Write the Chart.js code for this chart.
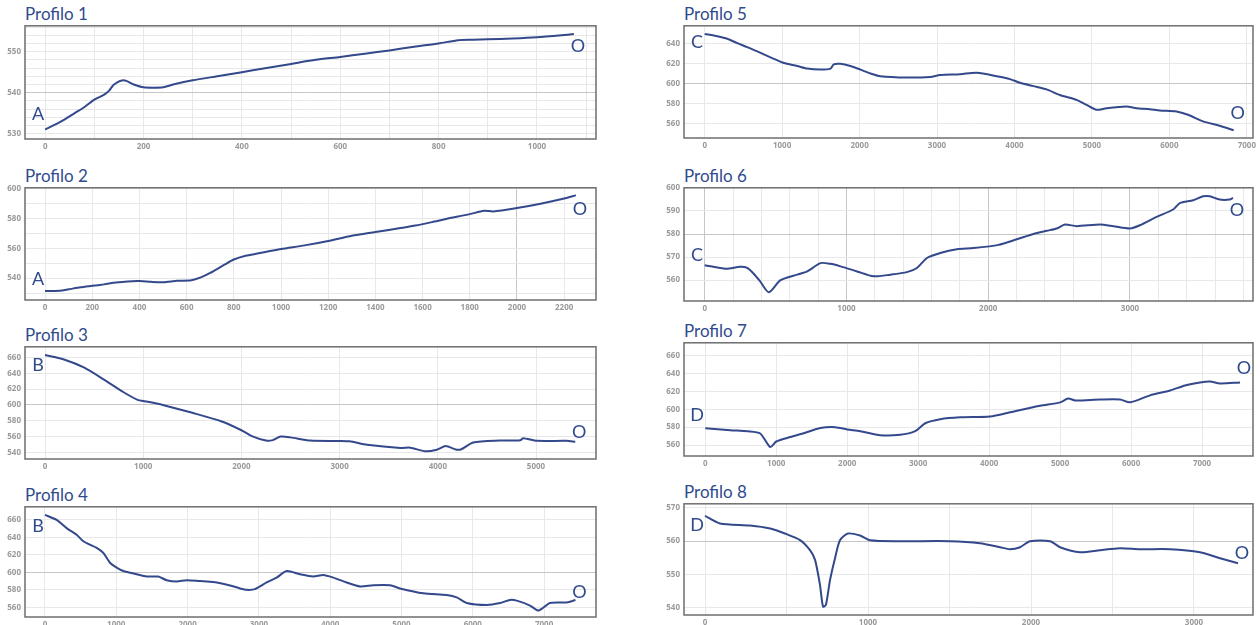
<!DOCTYPE html>
<html>
<head>
<meta charset="utf-8">
<script src="https://cdn.jsdelivr.net/npm/chart.js@4.4.1/dist/chart.umd.min.js"></script>
<style>
  html, body { margin: 0; padding: 0; background: #fff; overflow: hidden; }
  body { width: 1260px; height: 625px; position: relative; }
  .title { position: absolute; font: 17px Lato, sans-serif; line-height: 20px; color: #2f4b8c; white-space: nowrap; }
  canvas { position: absolute; }
</style>
</head>
<body>
<script>
// elevation profiles: distance (m) and elevation (m)
const titles = ['Profilo 1', 'Profilo 2', 'Profilo 3', 'Profilo 4', 'Profilo 5', 'Profilo 6', 'Profilo 7', 'Profilo 8'];
const startLetters = ['A', 'A', 'B', 'B', 'C', 'C', 'D', 'D'];
const endLetter = 'O';

const dist1 = [0, 20, 40, 60, 80, 100, 120, 130, 140, 160, 180, 200, 220, 240, 260, 300, 350, 400, 450, 500, 550, 600, 650, 700, 750, 800, 840, 870, 900, 950, 1000, 1050, 1075];
const elev1 = [531, 532.2, 533.5, 535, 536.5, 538.3, 539.5, 540.5, 542, 543, 542, 541.3, 541.2, 541.3, 542, 543, 544, 545, 546, 547, 548, 548.7, 549.5, 550.3, 551.2, 552, 552.8, 552.9, 553, 553.2, 553.5, 554, 554.3];

const dist2 = [0, 60, 100, 150, 200, 250, 300, 350, 400, 450, 500, 560, 620, 660, 700, 760, 800, 850, 900, 1000, 1100, 1200, 1300, 1400, 1500, 1570, 1650, 1700, 1800, 1860, 1900, 2000, 2100, 2200, 2250];
const elev2 = [531.3, 531.5, 532.5, 533.8, 534.8, 535.8, 537, 537.8, 538, 537.5, 537.3, 538.2, 538.6, 540.5, 543.5, 549, 552.5, 555, 556.5, 559.5, 562, 565, 568.5, 571, 573.5, 575.3, 578, 579.8, 583, 585.3, 584.8, 587.1, 590, 593.5, 595.6];

const dist3 = [0, 200, 400, 600, 800, 950, 1000, 1200, 1500, 1800, 2000, 2100, 2250, 2320, 2400, 2500, 2700, 3000, 3100, 3280, 3620, 3720, 3870, 3990, 4080, 4190, 4240, 4360, 4630, 4840, 4870, 5010, 5310, 5400];
const elev3 = [663, 657, 647, 632, 616, 606, 605, 600, 590, 579, 568, 561, 555, 555.5, 560, 559, 555, 554.5, 554, 549.6, 545.5, 546, 541.5, 543.5, 548, 543.5, 544, 552.5, 555, 555.5, 558, 554.6, 554.6, 553.6];

const dist4 = [0, 164, 304, 444, 538, 631, 725, 818, 912, 1005, 1099, 1286, 1426, 1589, 1706, 1847, 1987, 2174, 2361, 2595, 2735, 2829, 2945, 3109, 3249, 3390, 3576, 3763, 3903, 4044, 4231, 4418, 4605, 4839, 4979, 5307, 5634, 5775, 5915, 6195, 6382, 6523, 6616, 6803, 6920, 7084, 7318, 7440];
const elev4 = [665.7, 660, 650.6, 643, 635.5, 631.7, 628, 622.3, 611, 605.4, 601.6, 597.8, 595.2, 595.2, 591, 589.5, 591, 590, 588.9, 585, 581.6, 580, 580.8, 588.4, 594, 601.5, 597.8, 595.2, 597, 594, 588.4, 583.9, 585.3, 585.3, 581.6, 576, 574, 571.4, 565, 562.7, 564.9, 568.4, 567.6, 562, 556.3, 564.9, 565.6, 568.4];

const dist5 = [0, 163, 292, 421, 550, 679, 893, 1022, 1194, 1323, 1495, 1624, 1667, 1753, 1882, 2011, 2140, 2268, 2612, 2912, 3041, 3299, 3513, 3771, 3943, 4072, 4243, 4415, 4587, 4802, 4931, 5060, 5189, 5446, 5575, 5747, 5876, 6091, 6241, 6434, 6649, 6830];
const elev5 = [649.9, 647.5, 645, 640.6, 636.7, 632.4, 625, 620.8, 617.8, 615.2, 614.2, 615.2, 619.5, 620, 617.8, 614.2, 610.3, 607.6, 606.3, 606.9, 608.8, 609.6, 611, 607.6, 604.7, 601, 597.7, 594.4, 588.8, 583.9, 578.9, 574, 575.6, 577.2, 575.6, 574.6, 573.3, 572.3, 569, 562.4, 558.1, 553.5];

const dist6 = [0, 150, 250, 300, 350, 390, 453, 535, 653, 723, 817, 887, 958, 1075, 1192, 1310, 1427, 1497, 1568, 1662, 1779, 1897, 2073, 2202, 2319, 2413, 2483, 2542, 2624, 2788, 2883, 3000, 3070, 3188, 3305, 3352, 3446, 3516, 3563, 3633, 3704, 3727];
const elev6 = [566.5, 565, 565.8, 565.3, 562.5, 559.6, 554.8, 560, 562.4, 563.8, 567.4, 567.1, 566, 563.8, 561.7, 562.4, 563.5, 565.3, 569.6, 571.8, 573.4, 573.9, 575.3, 577.7, 580, 581.4, 582.4, 584.1, 583.4, 584.1, 583.4, 582.4, 583.8, 587.4, 590.6, 593.4, 594.6, 596.3, 596.3, 594.9, 594.9, 595.6];

const dist7 = [0, 352, 600, 774, 915, 1000, 1200, 1400, 1620, 1831, 2000, 2183, 2465, 2746, 2958, 3099, 3310, 3592, 4014, 4296, 4718, 5000, 5113, 5211, 5563, 5845, 5986, 6268, 6549, 6760, 6972, 7113, 7254, 7535];
const elev7 = [578.9, 576.7, 575.5, 573, 557.8, 564, 569, 573.5, 579, 580, 577.5, 575.6, 571, 571.5, 575.6, 584.4, 588.9, 591, 592, 596.7, 604, 607.8, 612, 610, 611, 611, 607.8, 615.6, 621, 626.7, 630, 631, 628.9, 630];

const dist8 = [0, 92, 276, 400, 490, 583, 644, 675, 705, 724, 742, 767, 798, 828, 877, 951, 1012, 1196, 1503, 1687, 1810, 1871, 1933, 1994, 2117, 2178, 2301, 2423, 2546, 2669, 2853, 3037, 3160, 3270];
const elev8 = [567.6, 565.3, 564.7, 563.8, 562.3, 560.3, 557.3, 554.4, 547, 540.4, 541, 548.4, 555, 560.3, 562.3, 561.7, 560.3, 560, 560, 559.4, 558.2, 557.6, 558.2, 560, 560, 558.2, 556.7, 557.3, 557.9, 557.6, 557.6, 556.7, 554.9, 553.4];

const distances = [dist1, dist2, dist3, dist4, dist5, dist6, dist7, dist8];
const elevations = [elev1, elev2, elev3, elev4, elev5, elev6, elev7, elev8];

// layout of each small chart (plot area in page pixels + axis setup)
const panels = [
  { col: 0, top: 25, bottom: 139, xMin: -41, xMax: 1120, xStep: 100, xLabel: 200, xDark: [], yMin: 528.7, yMax: 556.3, yStep: 2, yLabel: 10, yDark: [540], sDy: -15, eDy: 12 },
  { col: 0, top: 187, bottom: 300, xMin: -85, xMax: 2335, xStep: 200, xLabel: 200, xDark: [2000], yMin: 525.3, yMax: 600.7, yStep: 10, yLabel: 20, yDark: [], sDy: -12, eDy: 14 },
  { col: 0, top: 346, bottom: 459, xMin: -204, xMax: 5611, xStep: 1000, xLabel: 1000, xDark: [], yMin: 531.7, yMax: 673.4, yStep: 20, yLabel: 20, yDark: [600], sDy: 10, eDy: -9 },
  { col: 0, top: 506, bottom: 617, xMin: -280, xMax: 7728, xStep: 1000, xLabel: 1000, xDark: [], yMin: 548.9, yMax: 675, yStep: 20, yLabel: 20, yDark: [600], sDy: 11, eDy: -8 },
  { col: 1, top: 25, bottom: 138, xMin: -267, xMax: 7080, xStep: 1000, xLabel: 1000, xDark: [], yMin: 545.8, yMax: 658, yStep: 20, yLabel: 20, yDark: [600], sDy: 8, eDy: -17 },
  { col: 1, top: 187, bottom: 301, xMin: -146, xMax: 3868, xStep: 200, xLabel: 1000, xDark: [0, 1000, 2000, 3000], yMin: 551, yMax: 600, yStep: 10, yLabel: 10, yDark: [580], sDy: -10, eDy: 12 },
  { col: 1, top: 342, bottom: 456, xMin: -300, xMax: 7718, xStep: 1000, xLabel: 1000, xDark: [], yMin: 547.8, yMax: 674.4, yStep: 20, yLabel: 20, yDark: [], sDy: -13, eDy: -14 },
  { col: 1, top: 503, bottom: 615, xMin: -129, xMax: 3362, xStep: 500, xLabel: 1000, xDark: [], yMin: 537.9, yMax: 571.2, yStep: 10, yLabel: 10, yDark: [560], sDy: 9, eDy: -10 },
];

const LINE = '#34488c';
const TEXT = '#2f4b8c';
const TICK_FONT = { family: 'Open Sans', size: 8, weight: 'bold' };

function isMult(v, step) {
  const r = v / step;
  return Math.abs(r - Math.round(r)) < 1e-6;
}

// ticks on every multiple of step inside [min, max]
function stepTicks(min, max, step) {
  const out = [];
  for (let k = Math.ceil(min / step); k * step <= max; k++) out.push({ value: k * step });
  return out;
}

function gridColor(ctx, dark) {
  if (!ctx.tick) return 'rgba(0,0,0,0)';
  const v = ctx.tick.value;
  if (dark.some(d => Math.abs(d - v) < 1e-6)) return '#c6c6c6';
  return '#e8e8e8';
}

const framePlugin = {
  id: 'frame',
  afterDraw(chart) {
    const { ctx, chartArea: a } = chart;
    ctx.save();
    ctx.strokeStyle = '#6e6e6e';
    ctx.lineWidth = 1.5;
    ctx.strokeRect(a.left, a.top, a.right - a.left, a.bottom - a.top);
    ctx.restore();
  }
};

const letterPlugin = {
  id: 'letters',
  afterDatasetsDraw(chart, args, opts) {
    const pts = chart.getDatasetMeta(0).data;
    if (!pts.length) return;
    const first = pts[0];
    const last = pts[pts.length - 1];
    const ctx = chart.ctx;
    ctx.save();
    ctx.fillStyle = TEXT;
    ctx.font = '18px Lato, sans-serif';
    ctx.textAlign = 'center';
    ctx.textBaseline = 'middle';
    ctx.fillText(opts.start, chart.chartArea.left + 13, first.y + opts.startDy);
    ctx.fillText(opts.end, last.x + 4, last.y + opts.endDy);
    ctx.restore();
  }
};

const PAD_TOP = 8;
const AXIS_H = 16;

panels.forEach((p, i) => {
  const canvasLeft = p.col ? 640 : 0;
  const canvasWidth = p.col ? 620 : 600;
  const plotLeft = p.col ? 684 : 25;
  const plotRight = p.col ? 1253 : 596;

  const title = document.createElement('div');
  title.className = 'title';
  title.textContent = titles[i];
  title.style.left = plotLeft + 'px';
  title.style.top = (p.top - 21) + 'px';
  document.body.appendChild(title);

  const canvas = document.createElement('canvas');
  canvas.width = canvasWidth;
  canvas.height = p.bottom - p.top + PAD_TOP + AXIS_H;
  canvas.style.left = canvasLeft + 'px';
  canvas.style.top = (p.top - PAD_TOP) + 'px';
  document.body.appendChild(canvas);

  const points = distances[i].map((d, k) => ({ x: d, y: elevations[i][k] }));

  new Chart(canvas, {
    type: 'line',
    data: {
      datasets: [{
        data: points,
        borderColor: LINE,
        borderWidth: 2,
        pointRadius: 0,
        tension: 0.25,
        fill: false,
      }],
    },
    options: {
      responsive: false,
      animation: false,
      devicePixelRatio: 1,
      layout: { padding: { top: PAD_TOP, right: canvasLeft + canvasWidth - plotRight, left: 0, bottom: 0 } },
      plugins: {
        legend: { display: false },
        tooltip: { enabled: false },
        letters: { start: startLetters[i], end: endLetter, startDy: p.sDy, endDy: p.eDy },
      },
      scales: {
        x: {
          type: 'linear',
          min: p.xMin,
          max: p.xMax,
          border: { display: false },
          grid: { color: ctx => gridColor(ctx, p.xDark), drawTicks: false, lineWidth: 1 },
          afterBuildTicks: s => { s.ticks = stepTicks(p.xMin, p.xMax, p.xStep); },
          ticks: {
            autoSkip: false,
            maxRotation: 0,
            padding: 3,
            color: '#9a9a9a',
            font: TICK_FONT,
            callback: v => isMult(v, p.xLabel) ? String(Math.round(v)) : '',
          },
          afterFit: s => { s.height = AXIS_H; },
        },
        y: {
          min: p.yMin,
          max: p.yMax,
          border: { display: false },
          grid: { color: ctx => gridColor(ctx, p.yDark), drawTicks: false, lineWidth: 1 },
          afterBuildTicks: s => { s.ticks = stepTicks(p.yMin, p.yMax, p.yStep); },
          ticks: {
            autoSkip: false,
            padding: 4,
            color: '#9a9a9a',
            font: TICK_FONT,
            callback: v => isMult(v, p.yLabel) ? String(Math.round(v)) : '',
          },
          afterFit: s => { s.width = plotLeft - canvasLeft; },
        },
      },
    },
    plugins: [framePlugin, letterPlugin],
  });
});
</script>
</body>
</html>
